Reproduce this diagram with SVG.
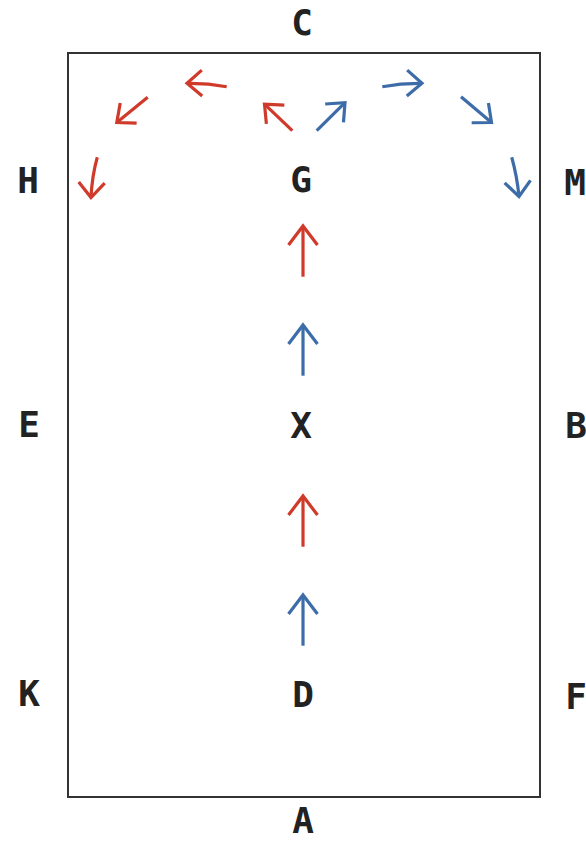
<svg xmlns="http://www.w3.org/2000/svg" width="586" height="841" viewBox="0 0 586 841">
  <style>
    .lbl { font-family: "DejaVu Sans Mono", "Liberation Mono", monospace; font-weight: bold; font-size: 36px; fill: #222; text-anchor: middle; }
    .arena { fill: none; stroke: #333; stroke-width: 2; }
    .red { fill: none; stroke: #cf3a2a; stroke-width: 3.2; }
    .blue { fill: none; stroke: #3d6da8; stroke-width: 3.2; }
    .rs { marker-end: url(#hr); }
    .bs { marker-end: url(#hb); }
    .rv { marker-end: url(#hrv); }
    .bv { marker-end: url(#hbv); }
  </style>
  <defs>
    <marker id="hr" markerUnits="userSpaceOnUse" orient="auto" refX="0" refY="0" markerWidth="40" markerHeight="40" viewBox="-20 -20 40 40" overflow="visible">
      <path d="M-15,-13 L0,0 L-15,13" fill="none" stroke="#cf3a2a" stroke-width="3.2"/>
    </marker>
    <marker id="hb" markerUnits="userSpaceOnUse" orient="auto" refX="0" refY="0" markerWidth="40" markerHeight="40" viewBox="-20 -20 40 40" overflow="visible">
      <path d="M-15,-13 L0,0 L-15,13" fill="none" stroke="#3d6da8" stroke-width="3.2"/>
    </marker>
    <marker id="hrv" markerUnits="userSpaceOnUse" orient="auto" refX="0" refY="0" markerWidth="50" markerHeight="50" viewBox="-25 -25 50 50" overflow="visible">
      <path d="M-19,-14.5 L0,0 L-19,14.5" fill="none" stroke="#cf3a2a" stroke-width="3.2"/>
    </marker>
    <marker id="hbv" markerUnits="userSpaceOnUse" orient="auto" refX="0" refY="0" markerWidth="50" markerHeight="50" viewBox="-25 -25 50 50" overflow="visible">
      <path d="M-19,-14.5 L0,0 L-19,14.5" fill="none" stroke="#3d6da8" stroke-width="3.2"/>
    </marker>
  </defs>

  <rect id="arena" class="arena" x="68" y="53" width="472" height="744"/>

  <g id="labels">
    <g id="node-C"><text class="lbl" x="302" y="35">C</text></g>
    <g id="node-A"><text class="lbl" x="303" y="833" font-size="35">A</text></g>
    <g id="node-H"><text class="lbl" x="28" y="193">H</text></g>
    <g id="node-G"><text class="lbl" x="301" y="192">G</text></g>
    <g id="node-M"><text class="lbl" x="575" y="195">M</text></g>
    <g id="node-E"><text class="lbl" x="29" y="437">E</text></g>
    <g id="node-X"><text class="lbl" x="301" y="438">X</text></g>
    <g id="node-B"><text class="lbl" x="576" y="438">B</text></g>
    <g id="node-K"><text class="lbl" x="29" y="706">K</text></g>
    <g id="node-D"><text class="lbl" x="303" y="707">D</text></g>
    <g id="node-F"><text class="lbl" x="576" y="709">F</text></g>
  </g>

  <g id="connectors">
    <path class="blue bv" d="M303,645.7 L303,595"/>
    <path class="red rv" d="M303,546.7 L303,496"/>
    <path class="blue bv" d="M303,375.7 L303,325"/>
    <path class="red rv" d="M303,276.7 L303,226"/>

    <path class="red rs" d="M292.3,130.7 L264.5,104.2"/>
    <path class="red rs" d="M226.7,86.7 Q207,83 187,83.3"/>
    <path class="red rs" d="M147.7,97.3 L116.8,122.5"/>
    <path class="red rs" d="M97.3,157.3 Q92,176 91,197.5"/>

    <path class="blue bs" d="M316.7,130.7 L345,102.7"/>
    <path class="blue bs" d="M382.3,86.7 Q402,83 422,83.3"/>
    <path class="blue bs" d="M461,96.7 L491.5,122.5"/>
    <path class="blue bs" d="M511.7,157.3 Q517,176 519,196.5"/>
  </g>
</svg>
